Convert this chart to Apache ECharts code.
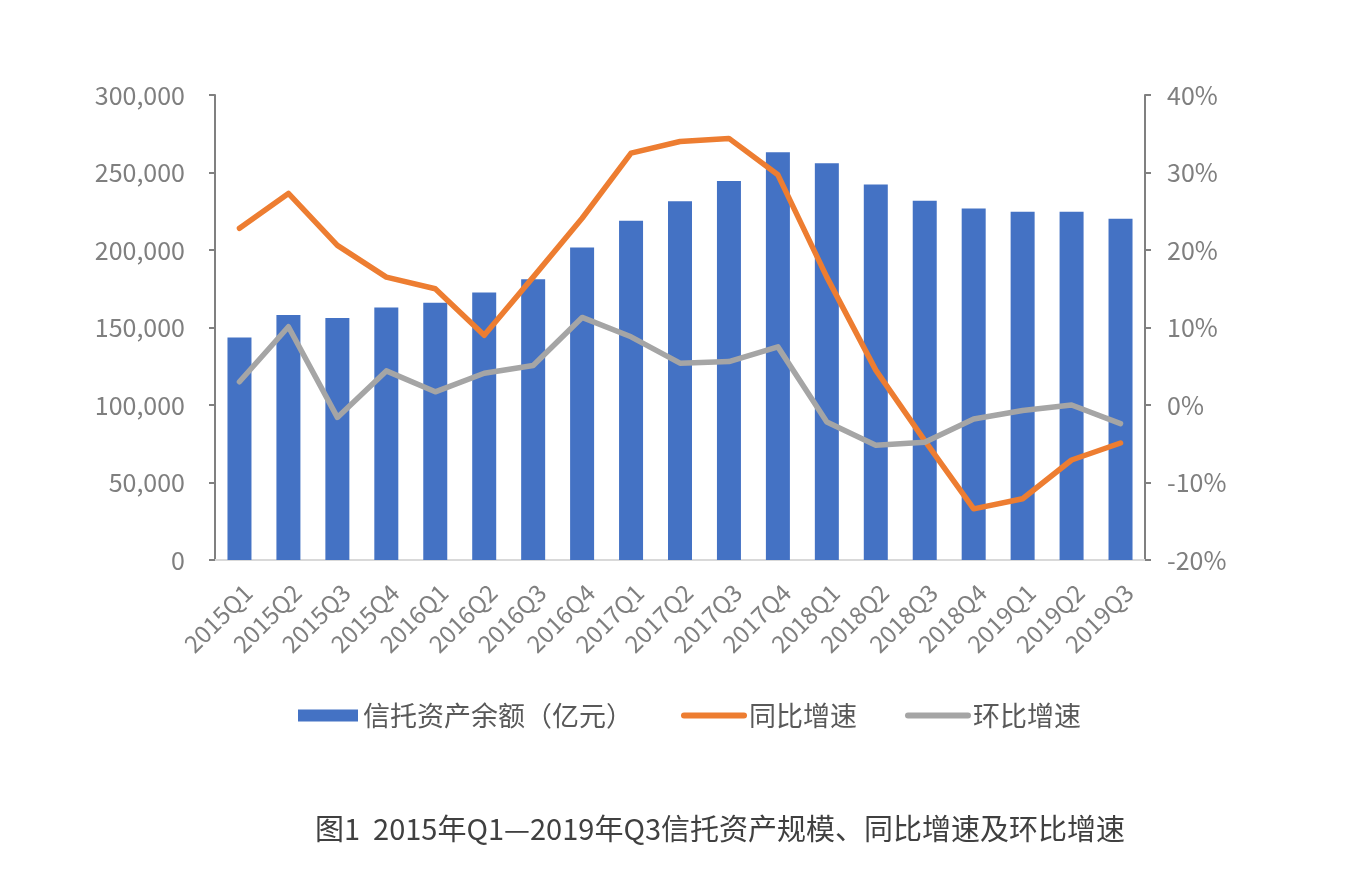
<!DOCTYPE html>
<html>
<head>
<meta charset="utf-8">
<script src="https://cdn.jsdelivr.net/npm/echarts@6/dist/echarts.min.js"></script>
<style>
html,body{margin:0;padding:0;background:#fff;}
#c{width:1355px;height:888px;}
</style>
</head>
<body>
<div id="c"></div>
<script>
const categories = ['2015Q1','2015Q2','2015Q3','2015Q4','2016Q1','2016Q2','2016Q3','2016Q4','2017Q1','2017Q2','2017Q3','2017Q4','2018Q1','2018Q2','2018Q3','2018Q4','2019Q1','2019Q2','2019Q3'];
const assetBalance = [143500,158100,156200,162900,165900,172600,181200,201600,218800,231500,244500,263000,255900,242300,231700,226800,224600,224600,220100];
const yoyGrowth = [22.8,27.3,20.6,16.5,15.0,9.0,16.5,24.1,32.5,34.0,34.4,29.7,16.5,4.5,-4.6,-13.4,-12.1,-7.1,-4.9];
const qoqGrowth = [3.0,10.1,-1.6,4.4,1.7,4.1,5.1,11.3,8.8,5.4,5.6,7.5,-2.2,-5.2,-4.8,-1.8,-0.7,0.0,-2.4];
const seriesNames = ['信托资产余额（亿元）','同比增速','环比增速'];
const chartTitle = '图1  2015年Q1—2019年Q3信托资产规模、同比增速及环比增速';

const FONT = '"Noto Sans CJK SC", "Noto Sans", sans-serif';
const chart = echarts.init(document.getElementById('c'), null, {renderer:'canvas'});
chart.setOption({
  backgroundColor:'#ffffff',
  animation:false,
  textStyle:{fontFamily:FONT},
  title:{
    text:chartTitle,
    left:310, top:809,
    textStyle:{fontFamily:FONT,fontSize:29,fontWeight:'normal',color:'#404040'}
  },
  legend:{
    left:293, top:697,
    itemWidth:60, itemHeight:12, itemGap:48,
    textStyle:{fontFamily:FONT,fontSize:27,color:'#595959'},
    data:[
      {name:seriesNames[0], icon:'rect'},
      {name:seriesNames[1], itemStyle:{opacity:0}, lineStyle:{width:6}},
      {name:seriesNames[2], itemStyle:{opacity:0}, lineStyle:{width:6}}
    ]
  },
  grid:{left:215,right:210,top:95,height:465,containLabel:false},
  xAxis:{
    type:'category',
    data:categories,
    axisLine:{lineStyle:{color:'#d9d9d9',width:2}},
    axisTick:{show:false},
    axisLabel:{
      rotate:45, interval:0, margin:20,
      align:'right', verticalAlign:'top',
      fontFamily:FONT, fontSize:24, color:'#7f7f7f'
    }
  },
  yAxis:[{
    type:'value', min:0, max:300000, interval:50000,
    position:'left',
    axisLine:{show:true,lineStyle:{color:'#808080',width:2}},
    axisTick:{show:true,length:6,lineStyle:{color:'#808080',width:2}},
    splitLine:{show:false},
    axisLabel:{
      margin:30, fontFamily:FONT, fontSize:25, color:'#7f7f7f',
      formatter:v=>v.toLocaleString('en-US')
    }
  },{
    type:'value', min:-20, max:40, interval:10,
    position:'right',
    axisLine:{show:true,lineStyle:{color:'#808080',width:2}},
    axisTick:{show:true,length:6,lineStyle:{color:'#808080',width:2}},
    splitLine:{show:false},
    axisLabel:{
      margin:22, fontFamily:FONT, fontSize:25, color:'#7f7f7f',
      formatter:'{value}%'
    }
  }],
  series:[{
    name:seriesNames[0], type:'bar', data:assetBalance, yAxisIndex:0,
    barWidth:24, itemStyle:{color:'#4472C4'}
  },{
    name:seriesNames[1], type:'line', data:yoyGrowth, yAxisIndex:1,
    smooth:false, symbol:'none',
    lineStyle:{color:'#ED7D31',width:5.5,cap:'round',join:'round'},
    itemStyle:{color:'#ED7D31'}
  },{
    name:seriesNames[2], type:'line', data:qoqGrowth, yAxisIndex:1,
    smooth:false, symbol:'none',
    lineStyle:{color:'#A5A5A5',width:5.5,cap:'round',join:'round'},
    itemStyle:{color:'#A5A5A5'}
  }]
});
</script>
</body>
</html>
